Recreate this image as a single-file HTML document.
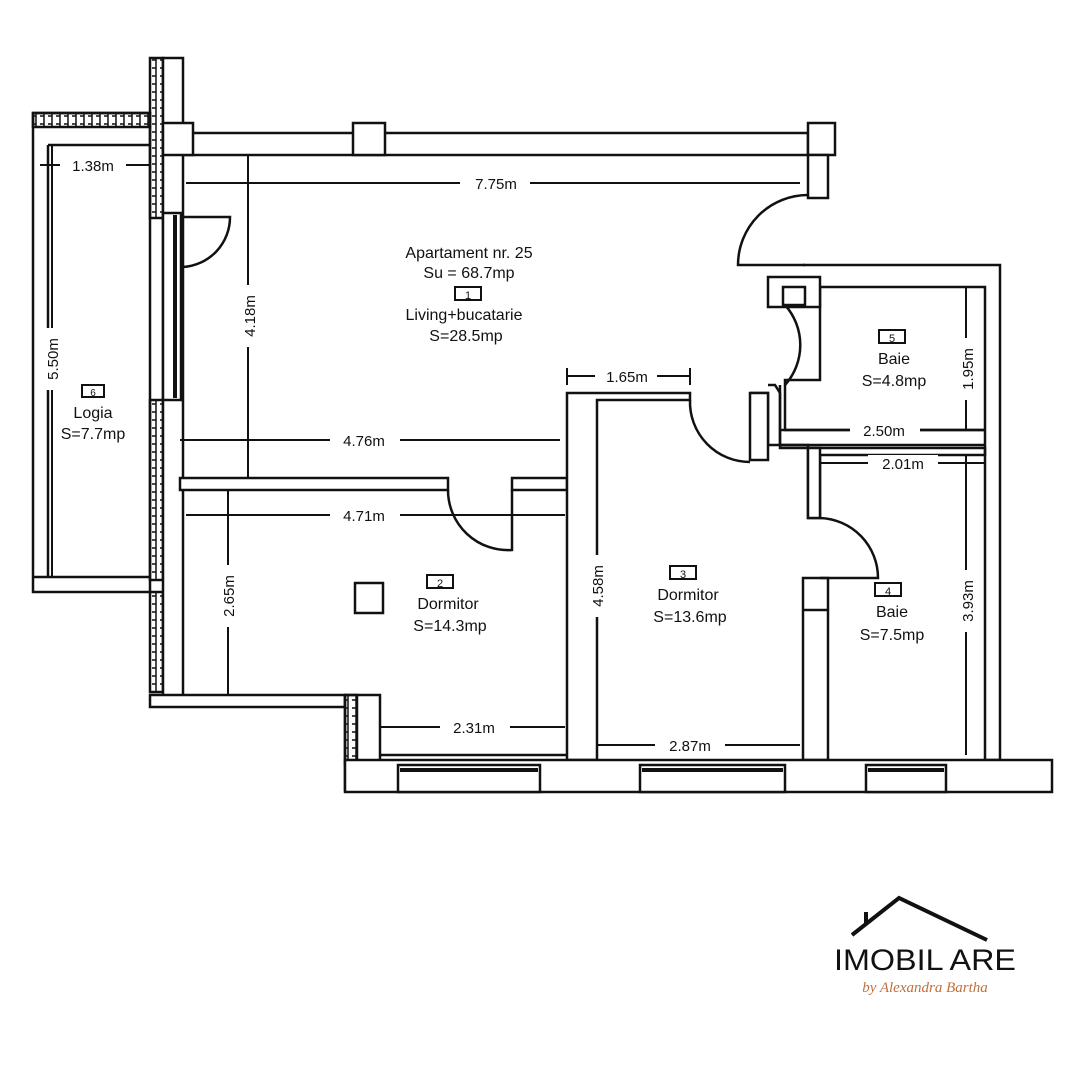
<!DOCTYPE html>
<html><head><style>body{margin:0;background:#fff}svg{display:block}text{font-family:"Liberation Sans",sans-serif;fill:#111}</style></head><body>
<svg width="1080" height="1080" viewBox="0 0 1080 1080" xmlns="http://www.w3.org/2000/svg">
<defs><pattern id="h" width="8" height="8" patternUnits="userSpaceOnUse"><path d="M0 4h4v4M4 0v4" stroke="#111" stroke-width="1.5" fill="none"/></pattern></defs>
<g fill="#fff" stroke="#111" stroke-width="2.5">
<!-- logia -->
<path d="M33 113 H150 V592 H33 Z" fill="none"/>
<rect x="33" y="113" width="117" height="14" fill="url(#h)"/>
<path d="M48 145 H150 M48 145 V577 H150 M33 577 H48" fill="none"/>
<rect x="150" y="58" width="13" height="160" fill="url(#h)"/>
<rect x="150" y="400" width="13" height="180" fill="url(#h)"/>
<rect x="150" y="592" width="13" height="100" fill="url(#h)"/>
<rect x="163" y="58" width="20" height="640"/>
<rect x="163" y="213" width="18" height="187"/>
<line x1="175" y1="215" x2="175" y2="398" stroke-width="4"/>
<!-- top wall -->
<rect x="183" y="133" width="625" height="22"/>
<rect x="163" y="123" width="30" height="32"/>
<rect x="353" y="123" width="32" height="32"/>
<rect x="808" y="123" width="27" height="32"/>
<rect x="808" y="155" width="20" height="43"/>
<!-- living/dorm2 wall -->
<rect x="180" y="478" width="268" height="12"/>
<rect x="512" y="478" width="55" height="12"/>
<!-- dorm2 bottom -->
<path d="M150 695 H345 V707 H150 Z"/>
<rect x="345" y="695" width="35" height="95"/>
<rect x="345" y="695" width="12" height="70" fill="url(#h)"/>
<line x1="380" y1="755" x2="567" y2="755"/>
<!-- dorm3 walls -->
<path d="M567 393 H690 V400 H597 V760 H567 Z"/>
<path d="M750 393 H768 V445 H808 V518 H820 V455 H985 V448 H780 V393 L775 385 H768" fill="none"/>
<rect x="750" y="393" width="18" height="67"/>
<rect x="808" y="448" width="12" height="70"/>
<rect x="803" y="578" width="25" height="182"/>
<line x1="803" y1="610" x2="828" y2="610"/>
<!-- baie 5 -->
<path d="M803 265 H1000 V760 H985 V287 H820 V380 H785 V430 H985" fill="none"/>
<rect x="768" y="277" width="52" height="30"/>
<rect x="783" y="287" width="22" height="18"/>
<line x1="780" y1="430" x2="985" y2="430"/>
<line x1="780" y1="445" x2="985" y2="445"/>
<line x1="780" y1="385" x2="780" y2="445"/>
<!-- bottom wall -->
<rect x="345" y="760" width="707" height="32"/>
<rect x="398" y="765" width="142" height="27"/>
<rect x="640" y="765" width="145" height="27"/>
<rect x="866" y="765" width="80" height="27"/>
<line x1="400" y1="770" x2="538" y2="770" stroke-width="4"/>
<line x1="642" y1="770" x2="783" y2="770" stroke-width="4"/>
<line x1="868" y1="770" x2="944" y2="770" stroke-width="4"/>
<rect x="355" y="583" width="28" height="30"/>
</g>
<!-- doors -->
<g fill="none" stroke="#111" stroke-width="2.5">
<path d="M183 217 H230 A50 50 0 0 1 183 267"/>
<path d="M808 195 A70 70 0 0 0 738 265 H805"/>
<path d="M785 305 A60 60 0 0 1 785 385"/>
<path d="M690 400 A60 60 0 0 0 750 462"/>
<path d="M448 490 A60 60 0 0 0 512 550 V490"/>
<path d="M820 518 A60 60 0 0 1 878 578 H820"/>
</g>
<!-- dimensions -->
<g stroke="#111" stroke-width="2" fill="none">
<path d="M40 165 H150 M186 183 H800 M248 155 V478 M52 145 V577 M180 440 H560 M186 515 H565 M228 490 V695 M380 727 H565 M567 376 H690 M567 368 V385 M690 368 V385 M597 745 H800 M966 287 V430 M785 430 H985 M820 463 H985 M966 455 V755"/>
</g>
<g font-size="15" text-anchor="middle">
<rect x="60" y="157" width="66" height="16" fill="#fff"/><text x="93" y="171">1.38m</text>
<rect x="460" y="175" width="70" height="16" fill="#fff"/><text x="496" y="189">7.75m</text>
<rect x="330" y="432" width="70" height="16" fill="#fff"/><text x="364" y="446">4.76m</text>
<rect x="330" y="507" width="70" height="16" fill="#fff"/><text x="364" y="521">4.71m</text>
<rect x="440" y="719" width="70" height="16" fill="#fff"/><text x="474" y="733">2.31m</text>
<rect x="595" y="368" width="62" height="16" fill="#fff"/><text x="627" y="382">1.65m</text>
<rect x="655" y="737" width="70" height="16" fill="#fff"/><text x="690" y="751">2.87m</text>
<rect x="850" y="422" width="70" height="16" fill="#fff"/><text x="884" y="436">2.50m</text>
<rect x="868" y="455" width="70" height="16" fill="#fff"/><text x="903" y="469">2.01m</text>
<rect x="40" y="328" width="24" height="62" fill="#fff"/><text transform="translate(58 359) rotate(-90)">5.50m</text>
<rect x="240" y="285" width="18" height="62" fill="#fff"/><text transform="translate(255 316) rotate(-90)">4.18m</text>
<rect x="218" y="565" width="20" height="62" fill="#fff"/><text transform="translate(234 596) rotate(-90)">2.65m</text>
<rect x="588" y="555" width="20" height="62" fill="#fff"/><text transform="translate(603 586) rotate(-90)">4.58m</text>
<rect x="958" y="338" width="20" height="62" fill="#fff"/><text transform="translate(973 369) rotate(-90)">1.95m</text>
<rect x="958" y="570" width="20" height="62" fill="#fff"/><text transform="translate(973 601) rotate(-90)">3.93m</text>
</g>
<g font-size="16" text-anchor="middle">
<text x="469" y="258">Apartament nr. 25</text><text x="469" y="278">Su = 68.7mp</text>
<rect x="455" y="287" width="26" height="13" fill="none" stroke="#111" stroke-width="2"/><text x="468" y="299" font-size="11">1</text>
<text x="464" y="320">Living+bucatarie</text><text x="466" y="341">S=28.5mp</text>
<rect x="82" y="385" width="22" height="12" fill="none" stroke="#111" stroke-width="2"/><text x="93" y="396" font-size="10">6</text>
<text x="93" y="418">Logia</text><text x="93" y="439">S=7.7mp</text>
<rect x="427" y="575" width="26" height="13" fill="none" stroke="#111" stroke-width="2"/><text x="440" y="587" font-size="11">2</text>
<text x="448" y="609">Dormitor</text><text x="450" y="631">S=14.3mp</text>
<rect x="670" y="566" width="26" height="13" fill="none" stroke="#111" stroke-width="2"/><text x="683" y="578" font-size="11">3</text>
<text x="688" y="600">Dormitor</text><text x="690" y="622">S=13.6mp</text>
<rect x="879" y="330" width="26" height="13" fill="none" stroke="#111" stroke-width="2"/><text x="892" y="342" font-size="11">5</text>
<text x="894" y="364">Baie</text><text x="894" y="386">S=4.8mp</text>
<rect x="875" y="583" width="26" height="13" fill="none" stroke="#111" stroke-width="2"/><text x="888" y="595" font-size="11">4</text>
<text x="892" y="617">Baie</text><text x="892" y="640">S=7.5mp</text>
</g>
<!-- logo -->
<g fill="none" stroke="#111" stroke-width="4">
<path d="M852 935 L899 898 L987 940"/><path d="M866 924 V912"/>
</g>
<text x="925" y="970" font-size="30" text-anchor="middle" textLength="182" lengthAdjust="spacingAndGlyphs">IMOBIL ARE</text>
<text x="925" y="992" font-size="15" font-style="italic" fill="#c07040" style="fill:#c07040;font-family:'Liberation Serif',serif" text-anchor="middle">by Alexandra Bartha</text>
</svg>
</body></html>
